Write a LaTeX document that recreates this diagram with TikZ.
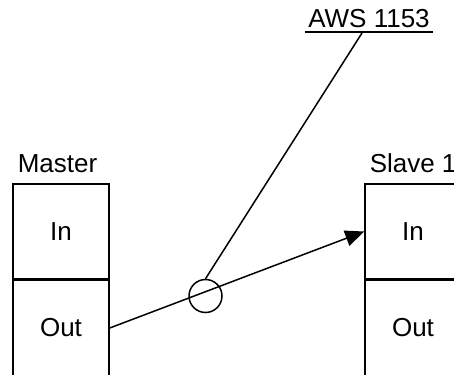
\documentclass[tikz,border=0pt]{standalone}
\usepackage{fontspec}
\setmainfont{Liberation Sans}
\usetikzlibrary{arrows.meta}
\begin{document}
\begin{tikzpicture}[x=1pt, y=-1pt, line width=1.5pt,
  every node/.style={font=\fontsize{26}{31}\selectfont},
  cell/.style={draw, rectangle, minimum width=96pt, minimum height=95pt, inner sep=0pt},
  title/.style={anchor=base west, inner sep=0pt}]
  \useasboundingbox (0,0) rectangle (454,374);
  \clip (0,0) rectangle (454,374);
  % Master device
  \node[cell] (masterIn) at (61,231.5) {In};
  \node[cell, anchor=north] (masterOut) at (masterIn.south) {Out};
  \node[title] (masterLabel) at (17,172) {Master};
  % Slave device
  \node[cell] (slaveIn) at (413,231.5) {In};
  \node[cell, anchor=north] (slaveOut) at (slaveIn.south) {Out};
  \node[title] (slaveLabel) at (369,172) {Slave 1};
  % Link from Master Out to Slave In
  \draw[-{Triangle[length=19pt, width=16pt]}] (masterOut.east) -- (slaveIn.west);
  % Marker on the link and its callout
  \node[draw, circle, minimum size=33pt, inner sep=0pt] (mux) at (205.5,296) {};
  \node[anchor=base, inner xsep=3pt] (awsLabel) at (369,28) {AWS 1153};
  \draw[line width=2pt] ([yshift=-4pt]awsLabel.base west) -- ([yshift=-4pt]awsLabel.base east);
  \coordinate (awsTip) at ([xshift=-7pt, yshift=-5pt]awsLabel.base);
  \draw (mux.north) -- (awsTip);
\end{tikzpicture}
\end{document}
